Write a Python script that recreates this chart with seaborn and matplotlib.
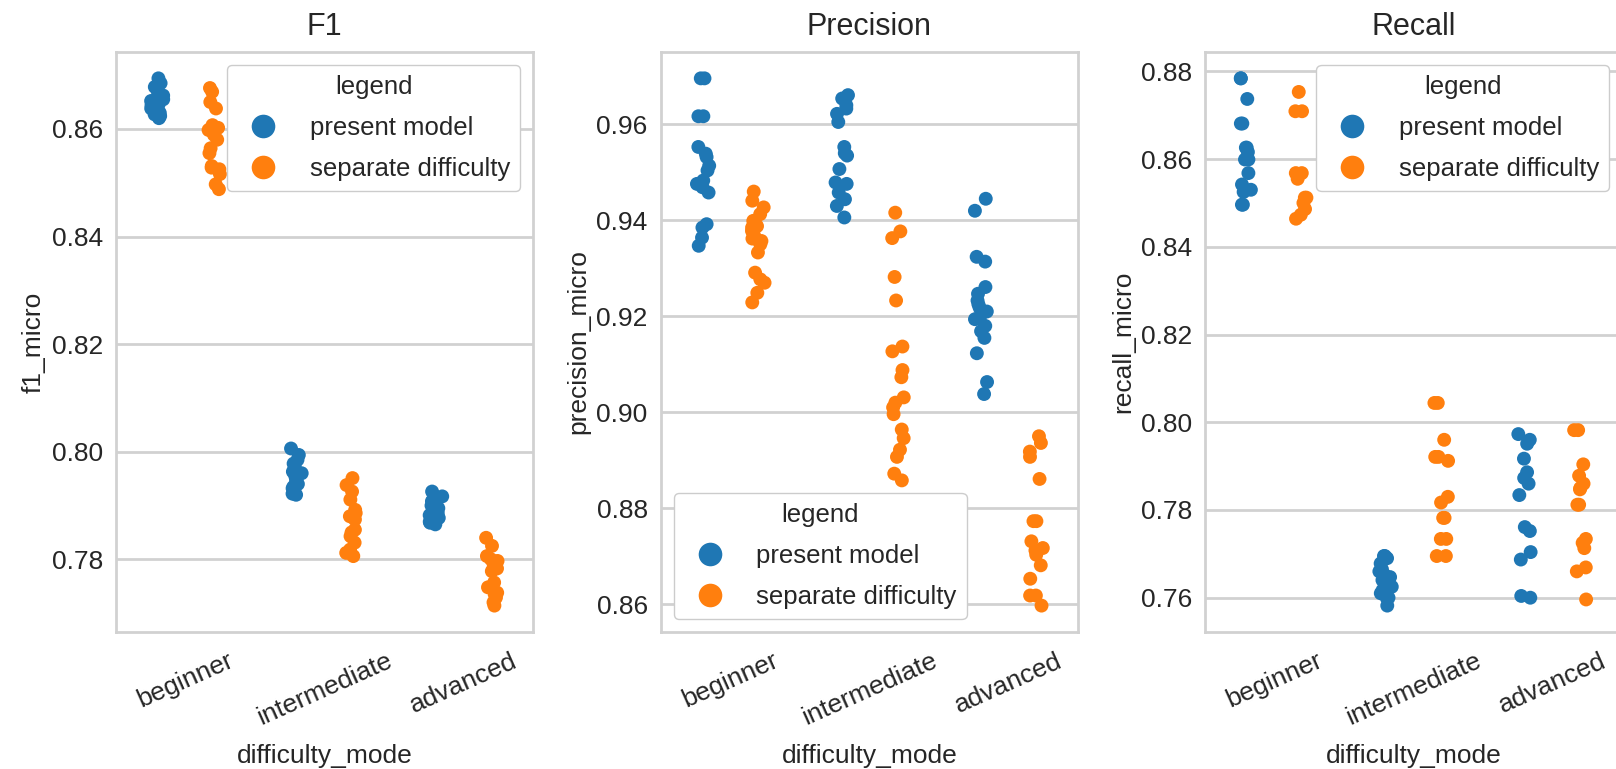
import numpy as np
import pandas as pd
import seaborn as sns
import matplotlib
matplotlib.use("Agg")
import matplotlib.pyplot as plt

modes = ["beginner", "intermediate", "advanced"]
hues = ["present model", "separate difficulty"]

# values, one list per (metric, mode, hue)
f1_beginner_present = [0.8694, 0.8685, 0.8678, 0.8669, 0.8662, 0.8655, 0.8650, 0.8647, 0.8644,
                       0.8640, 0.8638, 0.8635, 0.8630, 0.8627, 0.8624, 0.8620, 0.8652, 0.8645]
f1_beginner_separate = [0.8676, 0.8669, 0.8650, 0.8638, 0.8607, 0.8598, 0.8589, 0.8580, 0.8564,
                        0.8555, 0.8531, 0.8525, 0.8516, 0.8497, 0.8488, 0.8602, 0.8528]
f1_intermediate_present = [0.8006, 0.7994, 0.7985, 0.7972, 0.7963, 0.7954, 0.7945, 0.7935, 0.7929,
                           0.7920, 0.7960, 0.7940, 0.7925, 0.7978, 0.7950, 0.7932, 0.7922]
f1_intermediate_separate = [0.7951, 0.7938, 0.7926, 0.7911, 0.7892, 0.7886, 0.7874, 0.7855, 0.7843,
                            0.7831, 0.7818, 0.7806, 0.7880, 0.7850, 0.7812]
f1_advanced_present = [0.7926, 0.7917, 0.7908, 0.7895, 0.7886, 0.7877, 0.7865, 0.7890, 0.7882,
                       0.7870, 0.7900, 0.7875, 0.7868]
f1_advanced_separate = [0.7840, 0.7825, 0.7806, 0.7797, 0.7788, 0.7778, 0.7757, 0.7748, 0.7738,
                        0.7729, 0.7714, 0.7800, 0.7792, 0.7735, 0.7720, 0.7783]

prec_beginner_present = [0.9696, 0.9696, 0.9617, 0.9617, 0.9553, 0.9539, 0.9532, 0.9514, 0.9504,
                         0.9483, 0.9476, 0.9469, 0.9458, 0.9392, 0.9385, 0.9364, 0.9347]
prec_beginner_separate = [0.9460, 0.9441, 0.9427, 0.9413, 0.9399, 0.9388, 0.9378, 0.9368, 0.9357,
                          0.9350, 0.9333, 0.9291, 0.9277, 0.9270, 0.9249, 0.9229, 0.9385, 0.9362]
prec_intermediate_present = [0.9661, 0.9654, 0.9633, 0.9622, 0.9605, 0.9553, 0.9535, 0.9507, 0.9479,
                             0.9476, 0.9458, 0.9444, 0.9430, 0.9406, 0.9640, 0.9540]
prec_intermediate_separate = [0.9416, 0.9377, 0.9363, 0.9282, 0.9233, 0.9137, 0.9127, 0.9088, 0.9073,
                              0.9031, 0.9020, 0.9010, 0.8996, 0.8964, 0.8946, 0.8922, 0.8907, 0.8872, 0.8858]
prec_advanced_present = [0.9445, 0.9420, 0.9324, 0.9314, 0.9261, 0.9247, 0.9233, 0.9218, 0.9204,
                         0.9194, 0.9180, 0.9169, 0.9155, 0.9123, 0.9063, 0.9038, 0.9225, 0.9210]
prec_advanced_separate = [0.8950, 0.8936, 0.8918, 0.8907, 0.8861, 0.8773, 0.8773, 0.8731, 0.8717,
                          0.8703, 0.8681, 0.8653, 0.8618, 0.8618, 0.8597, 0.8712]

rec_beginner_present = [0.8784, 0.8784, 0.8737, 0.8681, 0.8681, 0.8626, 0.8626, 0.8616, 0.8599,
                        0.8599, 0.8568, 0.8542, 0.8525, 0.8530, 0.8496, 0.8496]
rec_beginner_separate = [0.8753, 0.8709, 0.8709, 0.8568, 0.8568, 0.8555, 0.8512, 0.8512, 0.8500,
                         0.8486, 0.8473, 0.8464]
rec_intermediate_present = [0.7695, 0.7695, 0.7690, 0.7678, 0.7665, 0.7647, 0.7640, 0.7634, 0.7625,
                            0.7617, 0.7610, 0.7600, 0.7600, 0.7582, 0.7660, 0.7652]
rec_intermediate_separate = [0.8044, 0.8044, 0.7960, 0.7921, 0.7921, 0.7912, 0.7830, 0.7817, 0.7782,
                             0.7782, 0.7734, 0.7734, 0.7695, 0.7695]
rec_advanced_present = [0.7973, 0.7960, 0.7951, 0.7917, 0.7886, 0.7873, 0.7860, 0.7834, 0.7761,
                        0.7752, 0.7704, 0.7687, 0.7604, 0.7600]
rec_advanced_separate = [0.7982, 0.7982, 0.7904, 0.7878, 0.7860, 0.7847, 0.7850, 0.7812, 0.7812,
                         0.7734, 0.7725, 0.7713, 0.7669, 0.7660, 0.7596]

metrics = {
    "f1_micro": [
        (f1_beginner_present, f1_beginner_separate),
        (f1_intermediate_present, f1_intermediate_separate),
        (f1_advanced_present, f1_advanced_separate),
    ],
    "precision_micro": [
        (prec_beginner_present, prec_beginner_separate),
        (prec_intermediate_present, prec_intermediate_separate),
        (prec_advanced_present, prec_advanced_separate),
    ],
    "recall_micro": [
        (rec_beginner_present, rec_beginner_separate),
        (rec_intermediate_present, rec_intermediate_separate),
        (rec_advanced_present, rec_advanced_separate),
    ],
}
titles = ["F1", "Precision", "Recall"]
legend_locs = ["upper right", "lower left", "upper right"]


def long_frame(metric):
    rows = []
    for mode, pair in zip(modes, metrics[metric]):
        for hue, vals in zip(hues, pair):
            for v in vals:
                rows.append({"difficulty_mode": mode, "legend": hue, metric: v})
    return pd.DataFrame(rows)


sns.set_theme(style="whitegrid", palette="tab10")
plt.rcParams["font.family"] = ["Liberation Sans", "DejaVu Sans"]
plt.rcParams.update({
    "axes.linewidth": 2.0,
    "grid.linewidth": 2.0,
    "axes.edgecolor": "0.82",
    "grid.color": "0.82",
    "xtick.labelsize": 19,
    "ytick.labelsize": 19,
    "axes.labelsize": 19,
    "axes.titlesize": 22,
    "legend.fontsize": 18.5,
    "legend.title_fontsize": 18.5,
})

np.random.seed(3)
fig = plt.figure(figsize=(16.16, 7.69), dpi=100)
lefts = [0.0718, 0.4090, 0.7457]

for left, metric, title, loc in zip(lefts, metrics, titles, legend_locs):
    ax = fig.add_axes([left, 0.1782, 0.258, 0.7542])
    df = long_frame(metric)
    sns.stripplot(data=df, x="difficulty_mode", y=metric, hue="legend",
                  order=modes, hue_order=hues, dodge=True, jitter=True,
                  size=10, ax=ax)
    sns.move_legend(ax, loc, title="legend", markerscale=1.7,
                    framealpha=1.0, borderaxespad=0.5, labelspacing=0.65)
    ax.set_title(title, pad=12)
    ax.tick_params(axis="x", rotation=24, pad=6)
    ax.set_xlabel("difficulty_mode", labelpad=10)

fig.savefig("out.png", dpi=100)
